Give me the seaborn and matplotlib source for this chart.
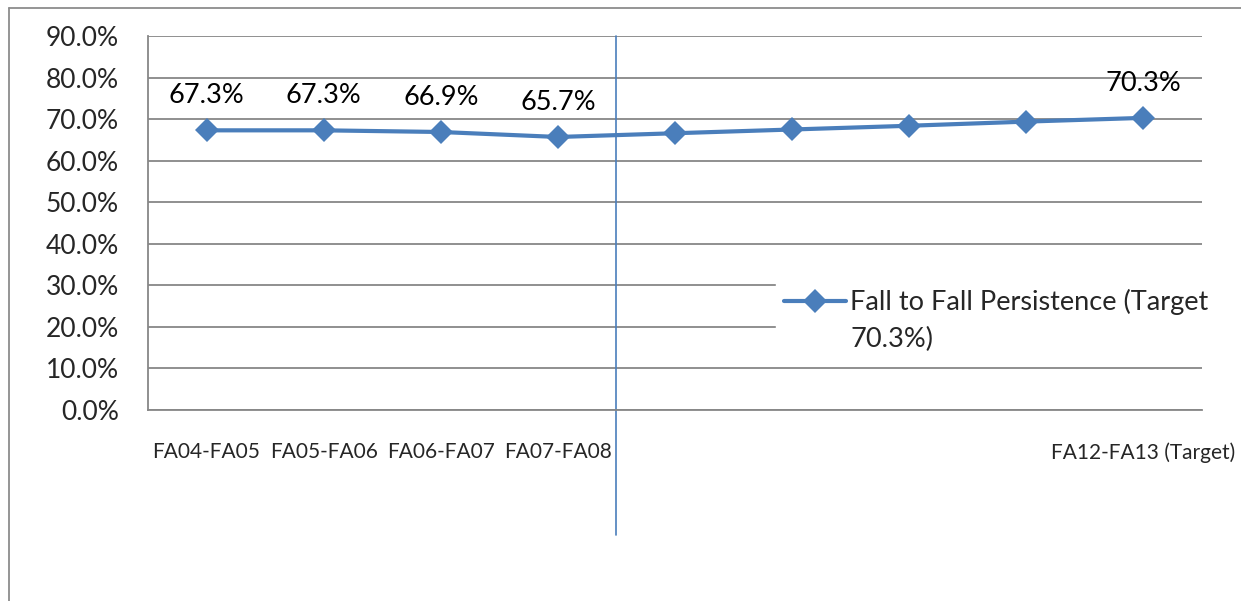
import matplotlib
matplotlib.use("Agg")
import matplotlib.pyplot as plt
import numpy as np
import pandas as pd
import seaborn as sns
from matplotlib.lines import Line2D
from matplotlib.ticker import FixedLocator, PercentFormatter

periods = ["FA04-FA05", "FA05-FA06", "FA06-FA07", "FA07-FA08",
           "FA08-FA09", "FA09-FA10", "FA10-FA11", "FA11-FA12", "FA12-FA13 (Target)"]
tick_labels = ["FA04-FA05", "FA05-FA06", "FA06-FA07", "FA07-FA08",
               "", "", "", "", "FA12-FA13 (Target)"]
persistence = [0.673, 0.673, 0.669, 0.657, 0.666, 0.675, 0.684, 0.694, 0.703]
shown_labels = [True, True, True, True, False, False, False, False, True]
series_name = "Fall to Fall Persistence (Target\n70.3%)"

BLUE = "#4A7EBB"
GRID = "#878787"
W, H = 1241, 601

sns.set_theme(style="white")
plt.rcParams["font.family"] = ["Lato", "DejaVu Sans"]

df = pd.DataFrame({"pos": np.arange(len(periods)), "value": persistence, "series": series_name})

fig = plt.figure(figsize=(W / 100, H / 100), dpi=100)
ax = fig.add_axes([148 / W, 1 - 410 / H, (1202 - 148) / W, (410 - 36) / H])

# divider between actuals and projections
ax.plot([3.5, 3.5], [0.9, -0.301], color=BLUE, lw=1.2, clip_on=False, zorder=2)

sns.lineplot(data=df, x="pos", y="value", hue="series", palette=[BLUE],
             marker="D", markersize=12, markeredgewidth=0, linewidth=3, ax=ax, zorder=3)

for x, v, show in zip(df["pos"], persistence, shown_labels):
    if show:
        ax.annotate(f"{v * 100:.1f}%", (x, v), xytext=(0, 16), textcoords="offset points",
                    ha="center", va="bottom", fontsize=19.5, color="black")

ax.set_ylim(0, 0.9)
ax.set_xlim(-0.5, len(periods) - 0.5)
ax.yaxis.set_major_locator(FixedLocator(np.arange(0, 0.91, 0.1)))
ax.yaxis.set_major_formatter(PercentFormatter(1.0, decimals=1))
ax.grid(axis="y", color=GRID, lw=1.3)
ax.set_axisbelow(True)

ax.set_xticks(np.arange(-0.5, len(periods)), labels=[""] * (len(periods) + 1))
ax.set_xticks(np.arange(len(periods)), labels=tick_labels, minor=True)
ax.tick_params(axis="x", which="major", length=6, width=1.3, color=GRID, direction="out")
ax.tick_params(axis="x", which="minor", length=0, labelsize=15, pad=23)
ax.tick_params(axis="y", length=8, width=1.3, color=GRID, direction="out", labelsize=19, pad=13)
ax.set_xlabel("")
ax.set_ylabel("")
for side in ["top", "right"]:
    ax.spines[side].set_visible(False)
for side in ["left", "bottom"]:
    ax.spines[side].set_color(GRID)
    ax.spines[side].set_linewidth(1.3)

leg = ax.legend(loc="upper left", bbox_to_anchor=(776 / W, 1 - 281 / H), bbox_transform=fig.transFigure,
                frameon=True, fontsize=19.5, handlelength=2.3, handletextpad=0.15,
                borderaxespad=0, borderpad=0.3, fancybox=False)
leg.get_frame().set_facecolor("white")
leg.get_frame().set_edgecolor("white")
leg.get_frame().set_alpha(1)
leg.set_zorder(5)
leg.get_texts()[0].set_linespacing(1.6)
# keep the key level with the first line of the label, as in the original
for handle in leg.get_lines():
    handle.set_ydata(np.asarray(handle.get_ydata()) + 14.5)

# outer chart border (only top and left visible in crop)
fig.add_artist(Line2D([9 / W, 1], [1 - 8 / H, 1 - 8 / H], color="#8c8c8c", lw=1.3))
fig.add_artist(Line2D([9 / W, 9 / W], [0, 1 - 8 / H], color="#8c8c8c", lw=1.3))

fig.savefig("out.png", dpi=100)
